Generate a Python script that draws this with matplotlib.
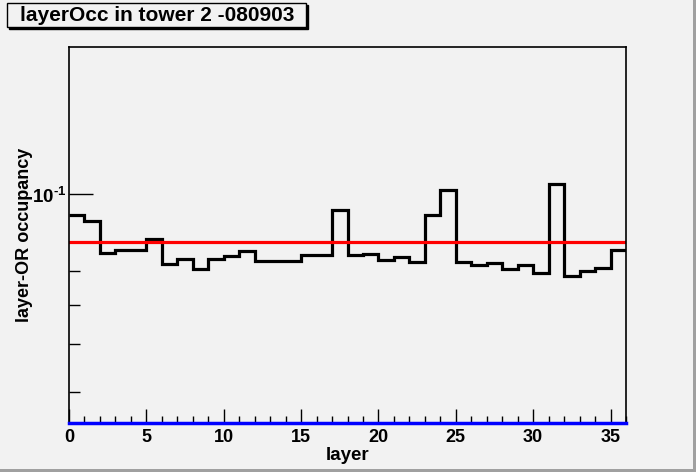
import numpy as np
import matplotlib
matplotlib.use("Agg")
import matplotlib.pyplot as plt
from matplotlib.patches import Rectangle

plt.rcParams['font.family'] = ['Liberation Sans', 'DejaVu Sans']
plt.rcParams['font.weight'] = 'bold'
plt.rcParams['mathtext.fontset'] = 'custom'
plt.rcParams['mathtext.rm'] = 'Liberation Sans:bold'
plt.rcParams['mathtext.bf'] = 'Liberation Sans:bold'

# occupancy per layer (bins 0..35)
layer_edges = np.arange(0, 37)
occupancy = [0.0909, 0.0885, 0.0761, 0.0773, 0.0773, 0.0812, 0.0723, 0.0741,
             0.0709, 0.0741, 0.0752, 0.0769, 0.0736, 0.0736, 0.0736, 0.0754,
             0.0754, 0.0929, 0.0754, 0.0760, 0.0737, 0.0748, 0.0730, 0.0907,
             0.1020, 0.0730, 0.0720, 0.0728, 0.0708, 0.0720, 0.0696, 0.1047,
             0.0686, 0.0701, 0.0711, 0.0773]
mean_level = 0.0801
y_lo, y_hi = 0.03465, 0.198

bg = '#f2f2f2'
fig = plt.figure(figsize=(6.96, 4.72), dpi=100, facecolor=bg)
ax = fig.add_axes([69/696, 1-423.3/472, (626-69)/696, (423.3-46.7)/472])
ax.set_facecolor(bg)

ax.stairs(occupancy, layer_edges, color='black', lw=2.3, baseline=None)
ax.axhline(mean_level, color='#ff0000', lw=2.3)
ax.axhline(y_lo, color='#0000ff', lw=2.5, clip_on=False, zorder=5)

ax.set_yscale('log')
ax.set_xlim(0, 36)
ax.set_ylim(y_lo, y_hi)

ax.set_xticks(np.arange(0, 36, 5))
ax.set_xticks(np.arange(0, 37, 1), minor=True)
ax.set_yticks([0.1])
ax.set_yticklabels([r'$10^{\text{-}1}$'])
ax.set_yticks([0.04, 0.05, 0.06, 0.07], minor=True)
ax.yaxis.set_minor_formatter(plt.NullFormatter())

ax.tick_params(axis='x', which='major', direction='in', length=10, width=1,
               labelsize=13, pad=4)
ax.tick_params(axis='x', which='minor', direction='in', length=5, width=1)
ax.tick_params(axis='y', which='major', direction='in', length=17, width=1,
               labelsize=13.5, pad=2)
ax.tick_params(axis='y', which='minor', direction='in', length=8, width=1)
for lab in ax.get_xticklabels() + ax.get_yticklabels():
    lab.set_fontweight('bold')
for sp in ax.spines.values():
    sp.set_linewidth(1.2)

ax.set_xlabel('layer', fontsize=13.5, fontweight='bold', labelpad=1)
ax.set_ylabel('layer-OR occupancy', fontsize=13, fontweight='bold')
ax.yaxis.set_label_coords(-36/557, 0.5)

# title box with shadow
bx0, by0, bw, bh = 7, 3, 299, 24
fig.patches.append(Rectangle(((bx0+2)/696, 1-(by0+bh+2)/472), bw/696, bh/472,
                             transform=fig.transFigure, facecolor='black',
                             edgecolor='black', lw=1))
fig.patches.append(Rectangle((bx0/696, 1-(by0+bh)/472), bw/696, bh/472,
                             transform=fig.transFigure, facecolor=bg,
                             edgecolor='black', lw=1))
fig.text(20/696, 1-15.5/472, 'layerOcc in tower 2 -080903', fontsize=15,
         fontweight='bold', va='center', ha='left')

# canvas border
fig.patches.append(Rectangle((1-3/696, 0), 3/696, 1, transform=fig.transFigure,
                             facecolor='#a0a0a0', edgecolor='none'))
fig.patches.append(Rectangle((0, 0), 1, 3/472, transform=fig.transFigure,
                             facecolor='#a0a0a0', edgecolor='none'))

fig.savefig('out.png', dpi=100, facecolor=bg)
